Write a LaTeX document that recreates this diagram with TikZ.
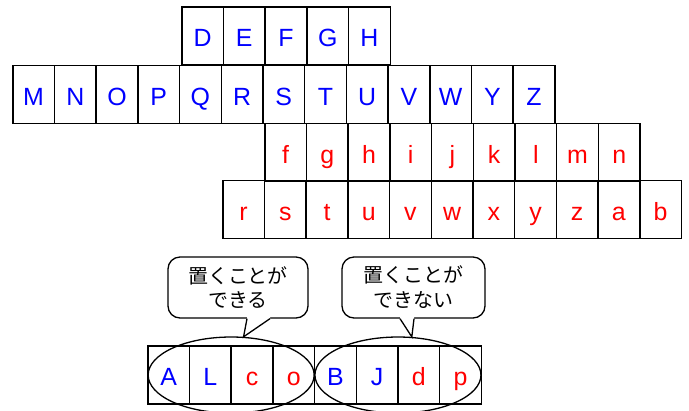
\documentclass[tikz,border=0pt]{standalone}
\usepackage{fontspec}
\setmainfont{Liberation Sans}
\newfontfamily\jpfont{Noto Sans CJK JP}
\usetikzlibrary{shapes.geometric,positioning,calc}

\begin{document}
\begin{tikzpicture}[x=1bp, y=-1bp,
  cell/.style={draw, line width=1.5bp, minimum width=41.7bp, minimum height=58bp,
               inner sep=0pt, text height=21bp, text depth=0bp,
               font=\fontsize{25}{25}\selectfont, anchor=west},
  upper/.style={cell, text=blue},
  lower/.style={cell, text=red},
  group/.style={ellipse, draw, line width=1.3bp, minimum width=166bp, minimum height=76bp},
  bubble/.style={draw, line width=1.3bp, rounded corners=12bp, minimum height=61bp,
                 align=center, font=\jpfont\fontsize{20}{25}\selectfont},
]
  \useasboundingbox (0,0) rectangle (689,410);

  % --- Letter rows ---
  \foreach \l [count=\i] in {D,E,F,G,H}
    \node[upper] (ra\i) at ({181+(\i-1)*41.7}, 36) {\l};
  \foreach \l [count=\i] in {M,N,O,P,Q,R,S,T,U,V,W,Y,Z}
    \node[upper] (rb\i) at ({12+(\i-1)*41.7}, 94.5) {\l};
  \foreach \l [count=\i] in {f,g,h,i,j,k,l,m,n}
    \node[lower] (rc\i) at ({264+(\i-1)*41.7}, 152.5) {\l};
  \foreach \l [count=\i] in {r,s,t,u,v,w,x,y,z,a,b}
    \node[lower] (rd\i) at ({222+(\i-1)*41.7}, 209.5) {\l};

  % --- Bottom row ---
  \foreach \l/\s [count=\i] in {A/upper,L/upper,c/lower,o/lower,B/upper,J/upper,d/lower,p/lower}
    \node[\s] (q\i) at ({147+(\i-1)*41.7}, 375) {\l};

  % --- Groups ---
  \node[group] (can) at ($(q1.west)!0.5!(q4.east)$) {};
  \node[group] (cannot) at ($(q5.west)!0.5!(q8.east)$) {};

  % --- Speech bubbles ---
  \node[bubble, minimum width=140bp] (say1) at (238, 287.5) {置くことが\\できる};
  \node[bubble, minimum width=143bp] (say2) at (413.5, 287.5) {置くことが\\できない};

  \fill[white] ($(say1.south)+(9,-2)$) -- ($(say1.south)+(9,0)$) -- (can.72)
    -- ($(say1.south)+(32,0)$) -- ($(say1.south)+(32,-2)$) -- cycle;
  \draw[line width=1.3bp] ($(say1.south)+(9,0)$) -- (can.72) -- ($(say1.south)+(32,0)$);

  \fill[white] ($(say2.south)+(-13.5,-2)$) -- ($(say2.south)+(-13.5,0)$) -- (cannot.70)
    -- ($(say2.south)+(0.5,0)$) -- ($(say2.south)+(0.5,-2)$) -- cycle;
  \draw[line width=1.3bp] ($(say2.south)+(-13.5,0)$) -- (cannot.70) -- ($(say2.south)+(0.5,0)$);
\end{tikzpicture}
\end{document}
